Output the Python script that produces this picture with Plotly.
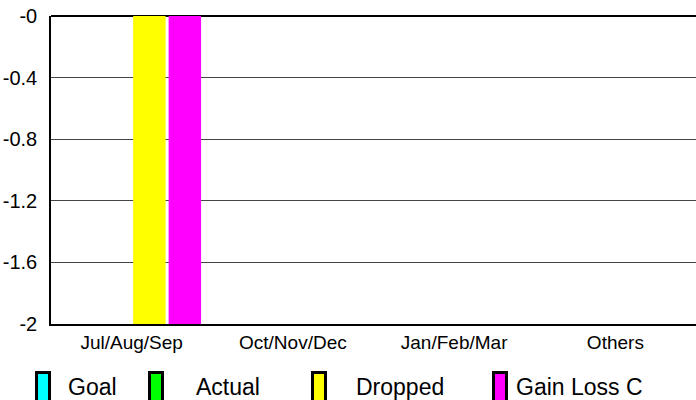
import plotly.graph_objects as go

categories = ["Jul/Aug/Sep", "Oct/Nov/Dec", "Jan/Feb/Mar", "Others"]
series_names = ["Goal", "Actual", "Dropped", "Gain Loss C"]
goal = [0, 0, 0, 0]
actual = [0, 0, 0, 0]
dropped = [-2, 0, 0, 0]
gain_loss = [-2, 0, 0, 0]
series_colors = ["#00FFFF", "#00FF00", "#FFFF00", "#FF00FF"]
tick_vals = [0, -0.4, -0.8, -1.2, -1.6, -2]
tick_text = ["-0", "-0.4", "-0.8", "-1.2", "-1.6", "-2"]

FONT = "Arial, Liberation Sans, sans-serif"
W, H = 696, 400
L, T, B, R = 51, 16, 76, 0
PW, PH = W - L - R, H - T - B

fig = go.Figure()
for name, vals, col in zip(series_names, [goal, actual, dropped, gain_loss], series_colors):
    fig.add_trace(go.Bar(x=categories, y=vals, name=name, marker=dict(color=col, line=dict(width=0)),
                         showlegend=False))

def px_x(p):
    return (p - L) / PW

def px_y(p):
    return (H - B - p) / PH

# legend drawn as swatches + text
legend_marker_x = [35, 148, 311, 492]
legend_text_x = [66, 194, 354, 514]
shapes = []
annotations = []
for name, col, mx, tx in zip(series_names, series_colors, legend_marker_x, legend_text_x):
    shapes.append(dict(type="rect", xref="paper", yref="paper",
                       x0=px_x(mx + 1.5), x1=px_x(mx + 14.5), y0=px_y(372.5), y1=px_y(404),
                       fillcolor=col, line=dict(color="black", width=3)))
    annotations.append(dict(text=name, xref="paper", yref="paper", x=px_x(tx), y=px_y(387),
                            xanchor="left", yanchor="middle", showarrow=False,
                            font=dict(family=FONT, size=23, color="black")))

fig.update_layout(
    width=W, height=H,
    margin=dict(l=L, r=R, t=T, b=B, pad=0),
    paper_bgcolor="white", plot_bgcolor="white",
    barmode="group", bargap=0.12, bargroupgap=0.085,
    font=dict(family=FONT, color="black"),
    shapes=shapes, annotations=annotations,
    showlegend=False,
)
fig.update_xaxes(showline=True, linecolor="black", linewidth=2, showgrid=False,
                 ticks="", tickfont=dict(size=19, family=FONT), ticklabelstandoff=0)
fig.update_yaxes(range=[-2, 0], tickvals=tick_vals, ticktext=tick_text,
                 showline=True, linecolor="black", linewidth=1.5,
                 showgrid=True, gridcolor="#444444", gridwidth=1,
                 zeroline=True, zerolinecolor="black", zerolinewidth=2,
                 ticks="", tickfont=dict(size=20, family=FONT), ticklabelstandoff=8)

fig.write_html("out.html", config={"displayModeBar": False},
               post_script="document.body.style.margin='0';document.body.style.overflow='hidden';")
